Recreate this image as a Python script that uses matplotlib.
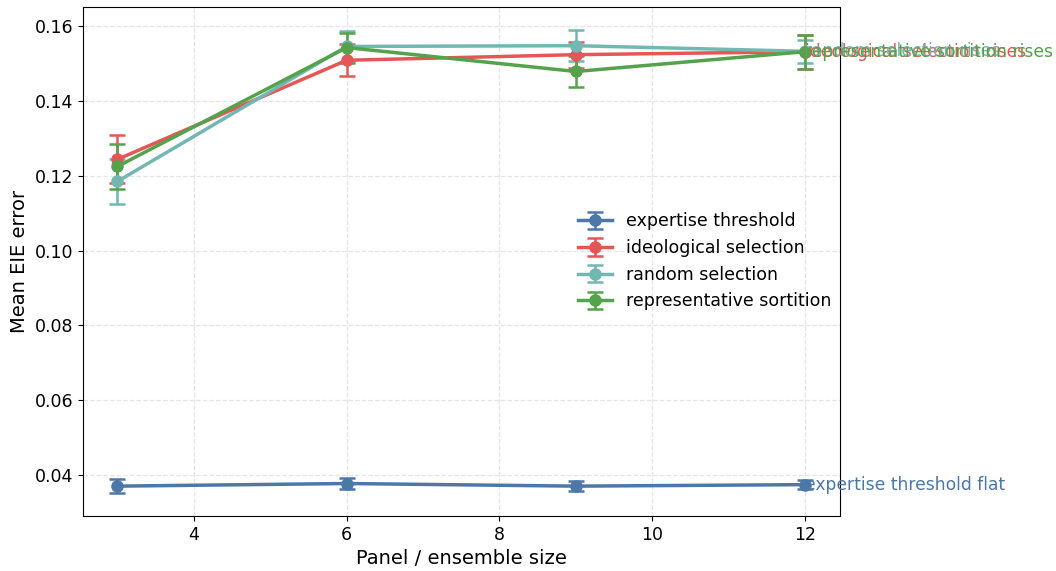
import matplotlib.pyplot as plt

sizes = [3, 6, 9, 12]

methods = ['expertise threshold', 'ideological selection',
           'random selection', 'representative sortition']
colors = ['#4c78a8', '#e45756', '#72b7b2', '#54a24b']

expertise = [0.0370, 0.0377, 0.0370, 0.0374]
expertise_err = [0.0018, 0.0014, 0.0014, 0.0012]
ideological = [0.1244, 0.1509, 0.1524, 0.1532]
ideological_err = [0.0064, 0.0043, 0.0035, 0.0045]
random_sel = [0.1185, 0.1546, 0.1548, 0.1533]
random_err = [0.0060, 0.0042, 0.0042, 0.0030]
sortition = [0.1225, 0.1543, 0.1479, 0.1532]
sortition_err = [0.0060, 0.0040, 0.0042, 0.0045]

end_notes = ['expertise threshold flat', 'ideological selection rises',
             'random selection rises', 'representative sortition rises']

means = [expertise, ideological, random_sel, sortition]
errs = [expertise_err, ideological_err, random_err, sortition_err]

fig = plt.figure(figsize=(10.56, 5.71), dpi=100)
ax = fig.add_axes([0.0786, 0.0963, 0.7164, 0.8917])

for name, c, m, e, note in zip(methods, colors, means, errs, end_notes):
    ax.errorbar(sizes, m, yerr=e, color=c, marker='o', markersize=8,
                linewidth=2.5, capsize=6, elinewidth=1.8, capthick=1.8,
                label=name)
    # label each series at its last point
    ax.text(sizes[-1], m[-1], note, color=c, fontsize=12.3,
            ha='left', va='center', clip_on=False)

ax.grid(True, linestyle='--', color='#e5e5e5', linewidth=0.9)
ax.set_axisbelow(True)
ax.set_xlabel('Panel / ensemble size', fontsize=14)
ax.set_ylabel('Mean EIE error', fontsize=14)
ax.tick_params(labelsize=12.5)
ax.legend(loc='center left', bbox_to_anchor=(0.633, 0.50), frameon=False,
          fontsize=12.5)

fig.savefig('out.png', dpi=100)
